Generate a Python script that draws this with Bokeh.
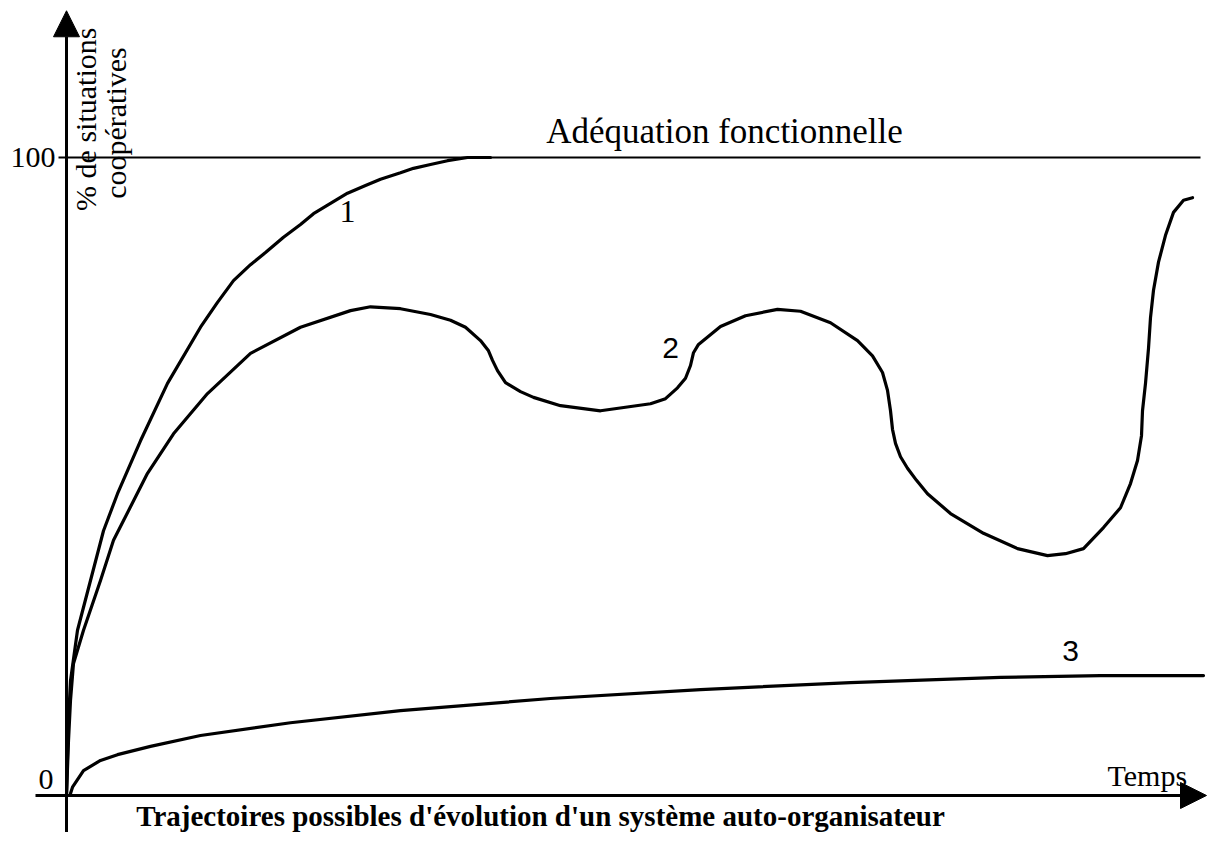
import math
from bokeh.plotting import figure
from bokeh.models import Range1d, Arrow, NormalHead, Label
from bokeh.embed import file_html
from bokeh.resources import INLINE

# ---- data (time in arbitrary units, y in % of cooperative situations) ----
t1 = [0, 0.2, 0.4, 1.1, 2.4, 3.7, 5.1, 7.4, 10.1, 13.4, 15.1, 16.7, 18.4, 19.9,
      21.7, 23.4, 24.7, 26.4, 28.1, 29.9, 31.4, 33.4, 34.7, 36.4, 38.1, 40.1,
      42.4]
y1 = [0, 11.8, 18.0, 25.9, 33.7, 41.5, 47.3, 55.6, 64.6, 73.4, 77.3, 80.7, 83.2,
      85.1, 87.5, 89.5, 91.2, 92.8, 94.4, 95.6, 96.6, 97.6, 98.3, 98.9, 99.5,
      100, 100]

t2 = [0, 0.2, 0.4, 0.7, 1.7, 3.4, 4.7, 8.1, 10.7, 14.1, 18.4, 23.4, 28.4, 30.4,
      33.4, 36.4, 38.4, 39.9, 41.4, 42.2, 42.6, 43.1, 43.9, 45.4, 46.7, 49.4,
      53.4, 58.4, 59.9, 61.1, 61.9, 62.4, 62.7, 63.2, 65.4, 67.9, 71.1, 73.4,
      76.4, 79.1, 80.6, 81.6, 82.1, 82.4, 82.6, 82.9, 83.4, 84.1, 85.0, 86.1,
      88.4, 91.7, 95.1, 98.1, 99.9, 101.7, 103.7, 105.4, 106.4, 107.1, 107.5,
      107.6, 107.9, 108.2, 108.4, 108.7, 109.2, 109.9, 110.7, 111.7, 112.6]
y2 = [0, 8.6, 14.9, 20.7, 25.9, 33.7, 40.0, 50.5, 56.7, 63.0, 69.3, 73.4, 76.0,
      76.6, 76.3, 75.4, 74.5, 73.4, 71.3, 69.7, 68.2, 66.6, 64.7, 63.3, 62.4,
      61.1, 60.3, 61.4, 62.2, 63.9, 65.4, 67.4, 69.4, 70.7, 73.5, 75.2, 76.2,
      75.9, 74.1, 71.3, 68.9, 66.3, 63.5, 60.3, 57.4, 55.2, 53.1, 51.3, 49.4,
      47.3, 44.2, 41.1, 38.7, 37.6, 37.9, 38.7, 42.0, 45.1, 48.9, 52.5, 56.4,
      60.3, 64.6, 70.1, 74.9, 79.2, 83.6, 87.8, 91.4, 93.3, 93.7]

t3 = [0.4, 0.6, 1.7, 3.4, 5.1, 8.4, 13.4, 22.4, 33.4, 48.4, 63.4, 78.4, 93.4,
      103.4, 113.7]
y3 = [0.3, 1.3, 3.9, 5.5, 6.4, 7.7, 9.4, 11.4, 13.3, 15.2, 16.6, 17.7, 18.5,
      18.8, 18.8]

ref_level = 100
ref_t = [-0.8, 113.4]
curve_labels = ["1", "2", "3"]

SERIF = "Liberation Serif"
SANS = "Liberation Sans"

p = figure(width=1208, height=832, output_backend="svg", toolbar_location=None,
           x_range=Range1d(-6.6, 114.2), y_range=Range1d(-5.80, 124.61),
           x_axis_type=None, y_axis_type=None, min_border=0,
           outline_line_color=None, background_fill_color="white",
           border_fill_color="white")
p.grid.visible = False

# reference line (functional adequacy)
p.line(ref_t, [ref_level, ref_level], line_color="black", line_width=2)

# curves
for tx, ty in [(t1, y1), (t2, y2), (t3, y3)]:
    p.line(tx, ty, line_color="black", line_width=3.2, line_join="round",
           line_cap="round")

# axes with arrows
p.add_layout(Arrow(end=NormalHead(size=26, fill_color="black", line_color="black"),
                   x_start=0, y_start=-6, x_end=0, y_end=123.0,
                   line_color="black", line_width=3))
p.add_layout(Arrow(end=NormalHead(size=26, fill_color="black", line_color="black"),
                   x_start=-3.1, y_start=0, x_end=114.0, y_end=0,
                   line_color="black", line_width=3))

def lab(text, x, y, size, align="center", baseline="middle", font=SERIF,
        style="normal", angle=0):
    p.add_layout(Label(x=x, y=y, text=text, text_font=font,
                       text_font_size=f"{size}px", text_align=align,
                       text_baseline=baseline, text_color="black",
                       text_font_style=style, angle=angle))

lab("100", -1.1, 100, 30, align="right")
lab("0", -1.3, 2.5, 30, align="right")
lab("Temps", 104.1, 3.13, 30, align="left")
lab("Adéquation fonctionnelle", 65.8, 104.08, 35)
lab(curve_labels[0], 28.1, 91.5, 32)
lab(curve_labels[1], 60.4, 70.2, 30, font=SANS)
lab(curve_labels[2], 100.4, 22.6, 30, font=SANS)
lab("% de situations", 1.9, 106.0, 30, angle=math.pi / 2)
lab("coopératives", 4.9, 105.4, 30, angle=math.pi / 2)
lab("Trajectoires possibles d'évolution d'un système auto-organisateur",
    47.4, -3.25, 29, style="bold")

open("out.html", "w").write(file_html(p, INLINE))
